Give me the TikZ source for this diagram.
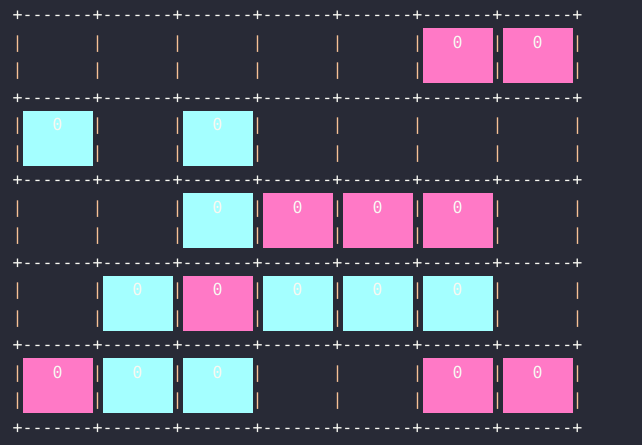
\documentclass[tikz,border=0pt]{standalone}
\usepackage{fontspec}
\setmonofont{DejaVu Sans Mono}
\usepackage{xcolor}
\usepackage{tikz}

\definecolor{termbg}{HTML}{282A36}
\definecolor{termfg}{HTML}{F8F8F2}
\definecolor{termbar}{HTML}{F7C196}
\definecolor{cellpink}{HTML}{FF79C6}
\definecolor{cellcyan}{HTML}{A4FFFF}

\tikzset{
    glyph/.style={font=\ttfamily\fontsize{16.6}{20}\selectfont, inner sep=0pt, anchor=base, text=termfg},
    barglyph/.style={glyph, text=termbar},
}

\begin{document}
\begin{tikzpicture}[x=1pt, y=-1pt]
    \fill[termbg] (0,0) rectangle (642,445);
    \useasboundingbox (0,0) rectangle (642,445);

    % Cells
    \foreach \r/\k/\col in {0/5/cellpink, 0/6/cellpink,
                            1/0/cellcyan, 1/2/cellcyan,
                            2/2/cellcyan, 2/3/cellpink, 2/4/cellpink, 2/5/cellpink,
                            3/1/cellcyan, 3/2/cellpink, 3/3/cellcyan, 3/4/cellcyan, 3/5/cellcyan,
                            4/0/cellpink, 4/1/cellcyan, 4/2/cellcyan, 4/5/cellpink, 4/6/cellpink} {
        \fill[\col] ({23+80*\k},{28.25+82.5*\r}) rectangle ++(70,55);
        \node[glyph] (z\r\k) at ({57.5+80*\k},{48+82.5*\r}) {0};
    }

    % Grid lines
    \foreach \l in {0,...,5} {
        \node[glyph, anchor=base west] (h\l) at (12.5,{20.5+82.5*\l})
            {+-------+-------+-------+-------+-------+-------+-------+};
    }

    % Bars
    \foreach \l in {0,...,4}
        \foreach \s in {1,2}
            \foreach \c in {0,...,7} {
                \node[barglyph] (v\l\s\c) at ({17.5+80*\c},{20.5+82.5*\l+27.5*\s}) {|};
            }
\end{tikzpicture}
\end{document}
